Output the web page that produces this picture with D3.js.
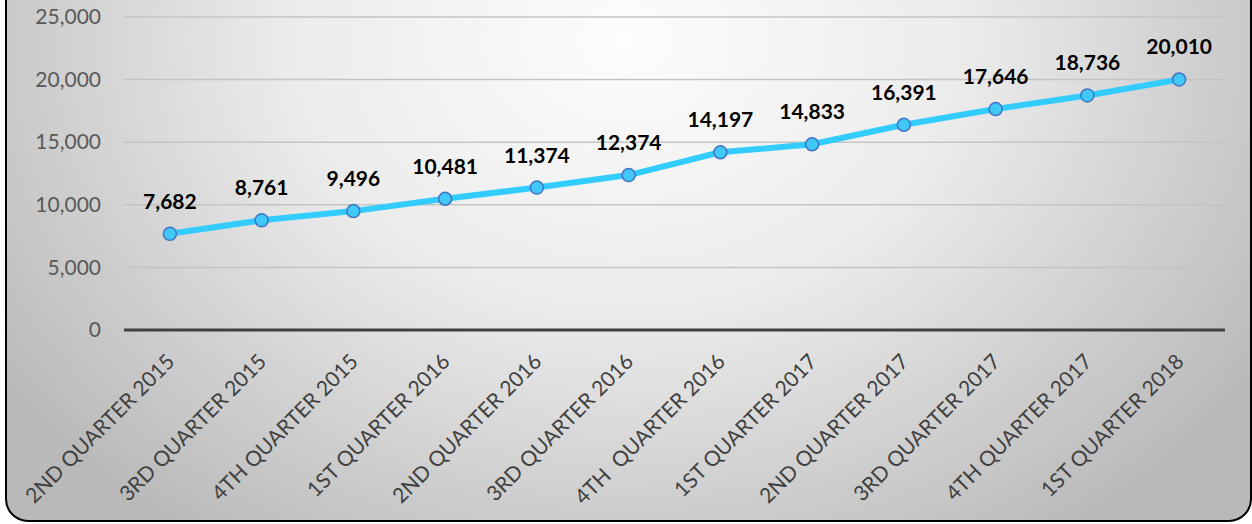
<!DOCTYPE html>
<html>
<head>
<meta charset="utf-8">
<script src="https://cdn.jsdelivr.net/npm/d3@7"></script>
<style>
  html, body { margin: 0; padding: 0; background: #ffffff; }
  svg { display: block; }
</style>
</head>
<body>
<svg id="chart" width="1252" height="524"></svg>
<script>
const categories = [
  "2ND QUARTER 2015", "3RD QUARTER 2015", "4TH QUARTER 2015",
  "1ST QUARTER 2016", "2ND QUARTER 2016", "3RD QUARTER 2016",
  "4TH  QUARTER 2016", "1ST QUARTER 2017", "2ND QUARTER 2017",
  "3RD QUARTER 2017", "4TH QUARTER 2017", "1ST QUARTER 2018"
];
const values = [7682, 8761, 9496, 10481, 11374, 12374, 14197, 14833, 16391, 17646, 18736, 20010];
const yTicks = [0, 5000, 10000, 15000, 20000, 25000];

const W = 1252, H = 524;
const svg = d3.select("#chart");
const FONT = "Lato, 'Open Sans', 'DejaVu Sans', sans-serif";

// background gradient
const defs = svg.append("defs");
const grad = defs.append("radialGradient")
  .attr("id", "bg")
  .attr("gradientUnits", "userSpaceOnUse")
  .attr("cx", 626).attr("cy", 40)
  .attr("r", 760)
  .attr("gradientTransform", "translate(626,40) scale(1,0.8) translate(-626,-40)");
grad.append("stop").attr("offset", "0").attr("stop-color", "#fdfdfd");
grad.append("stop").attr("offset", "0.45").attr("stop-color", "#ebebeb");
grad.append("stop").attr("offset", "1").attr("stop-color", "#b9b9b9");

svg.append("rect")
  .attr("x", 6).attr("y", -40)
  .attr("width", 1245).attr("height", 561)
  .attr("rx", 22).attr("ry", 22)
  .attr("fill", "url(#bg)")
  .attr("stroke", "#000")
  .attr("stroke-width", 2);

const x = d3.scaleBand().domain(categories).range([124, 1225]).padding(0);
const y = d3.scaleLinear().domain([0, 25000]).range([330, 17]);
const cx = d => x(d) + x.bandwidth() / 2;

// gridlines
const grid = svg.append("g");
grid.selectAll("line.grid")
  .data(yTicks.filter(t => t > 0))
  .enter().append("line")
  .attr("class", "grid")
  .attr("x1", 124).attr("x2", 1225)
  .attr("y1", d => y(d)).attr("y2", d => y(d))
  .attr("stroke", "#c4c4c4")
  .attr("stroke-width", 1.5);

// zero axis
svg.append("line")
  .attr("x1", 124).attr("x2", 1225)
  .attr("y1", y(0)).attr("y2", y(0))
  .attr("stroke", "#404040")
  .attr("stroke-width", 3);

// y axis labels
const yAxis = d3.axisLeft(y).tickValues(yTicks).tickSize(0).tickPadding(0)
  .tickFormat(d3.format(","));
const yg = svg.append("g").attr("transform", "translate(101,0)").call(yAxis);
yg.select(".domain").remove();
yg.selectAll("text")
  .attr("font-family", FONT)
  .attr("font-size", 21)
  .attr("fill", "#595959");

// x axis labels
const xAxis = d3.axisBottom(x).tickSize(0).tickPadding(0);
const xg = svg.append("g").attr("transform", "translate(0,0)").call(xAxis);
xg.select(".domain").remove();
xg.selectAll(".tick").attr("transform", d => `translate(${cx(d) + 6},363)`);
xg.selectAll("text")
  .attr("font-family", FONT)
  .attr("font-size", 21)
  .attr("fill", "#404040")
  .attr("text-anchor", "end")
  .attr("dy", 0)
  .attr("y", 0)
  .attr("transform", "rotate(-45)")
  .style("white-space", "pre");

// line
const line = d3.line().x((d, i) => cx(categories[i])).y(d => y(d));
svg.append("path")
  .datum(values)
  .attr("d", line)
  .attr("fill", "none")
  .attr("stroke", "#33ccff")
  .attr("stroke-width", 6)
  .attr("stroke-linejoin", "round");

// markers
svg.selectAll("circle.pt")
  .data(values)
  .enter().append("circle")
  .attr("class", "pt")
  .attr("cx", (d, i) => cx(categories[i]))
  .attr("cy", d => y(d))
  .attr("r", 6.5)
  .attr("fill", "#3fc8f8")
  .attr("stroke", "#4472c4")
  .attr("stroke-width", 1.5);

// data labels
svg.selectAll("text.lbl")
  .data(values)
  .enter().append("text")
  .attr("class", "lbl")
  .attr("x", (d, i) => cx(categories[i]))
  .attr("y", d => y(d) - 25)
  .attr("text-anchor", "middle")
  .attr("font-family", FONT)
  .attr("font-weight", "bold")
  .attr("font-size", 21)
  .attr("fill", "#000")
  .text(d => d3.format(",")(d));
</script>
</body>
</html>
